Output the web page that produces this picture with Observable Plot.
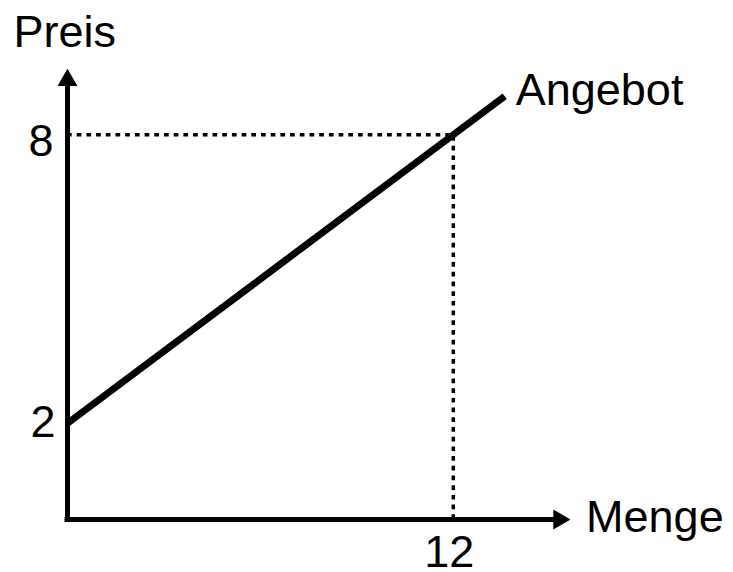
<!DOCTYPE html>
<html>
<head>
<meta charset="utf-8">
<script src="https://cdn.jsdelivr.net/npm/d3@7"></script>
<script src="https://cdn.jsdelivr.net/npm/@observablehq/plot@0.6"></script>
<style>
  html, body { margin: 0; padding: 0; background: #fff; }
  svg { display: block; }
</style>
</head>
<body>
<div id="chart"></div>
<script>
// Supply curve (Angebot): Menge -> Preis
const supplyQuantity = [0, 12, 13.6];
const supplyPrice = [2, 8, 8.8];

// Marked point
const markQuantity = [12];
const markPrice = [8];

// Tick labels
const yTickValues = [2, 8];
const xTickValues = [12];

// Axis extents (arrow positions, data units)
const xAxisEnd = 15.29;
const yAxisEnd = 9.13;

const supply = supplyQuantity.map((q, i) => ({q, p: supplyPrice[i]}));
const font = "Arial, 'Liberation Sans', sans-serif";
const fs = 45;

const chart = Plot.plot({
  width: 733,
  height: 572,
  marginLeft: 67,
  marginRight: 23,
  marginTop: 38,
  marginBottom: 53,
  style: {fontFamily: font, background: "white"},
  x: {domain: [0, 20], axis: null},
  y: {domain: [0, 10], axis: null},
  marks: [
    // dotted guide lines
    Plot.ruleY(markPrice, {x1: 0, x2: markQuantity[0], y: d => d, stroke: "black", strokeWidth: 3.5, strokeDasharray: "4.7,5"}),
    Plot.ruleX(markQuantity, {y1: 0, y2: markPrice[0], x: d => d, stroke: "black", strokeWidth: 3.5, strokeDasharray: "4.7,5"}),
    // axes
    Plot.ruleY([0], {x1: 0, x2: xAxisEnd, stroke: "black", strokeWidth: 5, strokeLinecap: "square"}),
    Plot.ruleX([0], {y1: 0, y2: yAxisEnd, stroke: "black", strokeWidth: 5, strokeLinecap: "square"}),
    Plot.dot([{x: xAxisEnd, y: 0}], {x: "x", y: "y", symbol: "triangle", r: 7.4, fill: "black", stroke: null, rotate: 90}),
    Plot.dot([{x: 0, y: yAxisEnd}], {x: "x", y: "y", symbol: "triangle", r: 7.4, fill: "black", stroke: null}),
    // supply line
    Plot.line(supply, {x: "q", y: "p", stroke: "black", strokeWidth: 7, strokeLinecap: "butt"}),
    // tick labels
    Plot.text([yTickValues[1]], {x: 0, y: d => d, text: d => String(d), textAnchor: "end", lineAnchor: "bottom", dx: -14, dy: 21, fontSize: fs, fill: "black"}),
    Plot.text([yTickValues[0]], {x: 0, y: d => d, text: d => String(d), textAnchor: "end", lineAnchor: "bottom", dx: -12, dy: 14, fontSize: fs, fill: "black"}),
    Plot.text(xTickValues, {x: d => d, y: 0, text: d => String(d), textAnchor: "middle", lineAnchor: "bottom", dx: -4, dy: 47, fontSize: fs, fill: "black"}),
    // axis titles and curve label
    Plot.text(["Preis"], {x: 0, y: yAxisEnd, text: d => d, textAnchor: "start", lineAnchor: "bottom", dx: -54, dy: -33, fontSize: fs, fill: "black"}),
    Plot.text(["Menge"], {x: xAxisEnd, y: 0, text: d => d, textAnchor: "start", lineAnchor: "bottom", dx: 27, dy: 12, fontSize: fs, fill: "black"}),
    Plot.text(["Angebot"], {x: supplyQuantity[2], y: supplyPrice[2], text: d => d, textAnchor: "start", lineAnchor: "bottom", dx: 11, dy: 9, fontSize: fs, fill: "black"})
  ]
});
document.getElementById("chart").appendChild(chart);
</script>
</body>
</html>
